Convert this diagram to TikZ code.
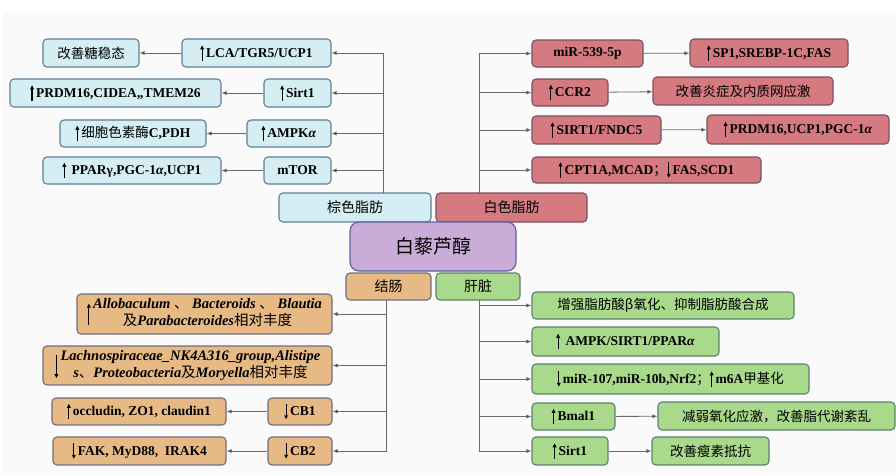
\documentclass[tikz,border=0pt]{standalone}
\usepackage{fontspec}
\setmainfont{Liberation Serif}
\newfontfamily\cjkfont{Noto Sans CJK SC}
\usetikzlibrary{arrows.meta}
\newcommand\cn[1]{{\cjkfont\mdseries\upshape #1}}
\newcommand\up{\tikz[baseline=0pt,x=1pt,y=1pt]\draw[line width=1.2pt,-{Triangle[length=4pt,width=3.6pt]}] (0,-3.5) -- (0,12);\,}
\newcommand\down{\tikz[baseline=0pt,x=1pt,y=1pt]\draw[line width=1.2pt,-{Triangle[length=4pt,width=3.6pt]}] (0,12) -- (0,-3.5);\,}
\newcommand\tallup{\tikz[baseline=0pt,x=1pt,y=1pt]\draw[line width=1.2pt,-{Triangle[length=4pt,width=3.6pt]}] (0,-7) -- (0,14);\,}
\newcommand\talldown{\tikz[baseline=0pt,x=1pt,y=1pt]\draw[line width=1.2pt,-{Triangle[length=4pt,width=3.6pt]}] (0,14) -- (0,-9);\,}
\definecolor{blueF}{HTML}{D4EEF3}
\definecolor{blueD}{HTML}{5F7F95}
\definecolor{redF}{HTML}{D57A80}
\definecolor{redD}{HTML}{7A5060}
\definecolor{purpF}{HTML}{C9ADD8}
\definecolor{purpD}{HTML}{5B5FA0}
\definecolor{tanF}{HTML}{E7B985}
\definecolor{tanD}{HTML}{6D6E7E}
\definecolor{greenF}{HTML}{A9D98A}
\definecolor{greenD}{HTML}{5F8070}
\definecolor{lineC}{HTML}{6A6A6A}
\tikzset{
  base/.style={rounded corners=4pt, line width=1.1pt, inner sep=0pt, align=center,
    font=\fontsize{13.5}{16}\selectfont\bfseries},
  bbox/.style={base, fill=blueF, draw=blueD},
  rbox/.style={base, fill=redF, draw=redD},
  tbox/.style={base, fill=tanF, draw=tanD},
  gbox/.style={base, fill=greenF, draw=greenD},
  lab/.style={base, font=\fontsize{14}{16}\selectfont},
  conn/.style={draw=lineC, line width=0.8pt, -{Latex[length=5pt,width=4pt,fill=black]}},
  trunk/.style={draw=lineC, line width=0.8pt},
}
\begin{document}
\begin{tikzpicture}[x=1pt,y=-1pt]
\useasboundingbox (0,0) rectangle (896,475);
\fill[black!2] (3,12) rectangle (896,475);
% ---------- brown fat (blue) ----------
\node[bbox, minimum width=96, minimum height=28] (b1a) at (91,53) {\cn{改善糖稳态}};
\node[bbox, minimum width=149, minimum height=28] (b1b) at (256.5,53) {\up LCA/TGR5/UCP1};
\node[bbox, minimum width=211, minimum height=28] (b2a) at (115.5,93) {\up PRDM16,CIDEA,,TMEM26};
\node[bbox, minimum width=67, minimum height=28] (b2b) at (297.5,93) {\up Sirt1};
\node[bbox, minimum width=146, minimum height=27] (b3a) at (133,133.5) {\up\cn{细胞色素酶}C,PDH};
\node[bbox, minimum width=84, minimum height=27] (b3b) at (289,133.5) {\up AMPK\textit{α}};
\node[bbox, minimum width=178, minimum height=27] (b4a) at (132,170.5) {\up\ PPARγ,PGC-1\textit{α},UCP1};
\node[bbox, minimum width=67, minimum height=27] (b4b) at (297.5,170.5) {mTOR};
% ---------- white fat (red) ----------
\node[rbox, minimum width=111, minimum height=27] (r1a) at (587.5,53.5) {miR-539-5p};
\node[rbox, minimum width=158, minimum height=28] (r1b) at (769,53) {\up SP1,SREBP-1C,FAS};
\node[rbox, minimum width=76, minimum height=27] (r2a) at (570,92.5) {\up CCR2};
\node[rbox, minimum width=180, minimum height=28] (r2b) at (743,91) {\cn{改善炎症及内质网应激}};
\node[rbox, minimum width=129, minimum height=28] (r3a) at (596.5,130) {\up SIRT1/FNDC5};
\node[rbox, minimum width=182, minimum height=29] (r3b) at (798,129.5) {\up PRDM16,UCP1,PGC-1\textit{α}};
\node[rbox, minimum width=229, minimum height=26] (r4) at (646.5,170) {\up CPT1A,MCAD\cn{；}\down FAS,SCD1};
% ---------- central labels ----------
\node[lab, fill=blueF, draw=blueD, minimum width=152, minimum height=29] (bf) at (355,207.5) {\cn{棕色脂肪}};
\node[lab, fill=redF, draw=redD, minimum width=151, minimum height=29] (wf) at (511.5,207.5) {\cn{白色脂肪}};
\node[base, fill=purpF, draw=purpD, rounded corners=9pt, minimum width=166, minimum height=49,
  font=\fontsize{19}{22}\selectfont] (ctr) at (433,246.5) {\cn{白藜芦醇}};
\node[lab, fill=tanF, draw=tanD, minimum width=85, minimum height=27] (co) at (388.5,286.5) {\cn{结肠}};
\node[lab, fill=greenF, draw=greenD, minimum width=84, minimum height=27] (li) at (478,286.5) {\cn{肝脏}};
% ---------- colon (tan) ----------
\node[tbox, minimum width=255, minimum height=40, font=\fontsize{14.5}{16}\selectfont\bfseries] (t1) at (204.5,314)
  {\tallup\begin{tabular}{@{}c@{}}\textit{Allobaculum} \cn{、} \textit{Bacteroids} \cn{、} \textit{Blautia}\\
   \cn{及}\textit{Parabacteroides}\cn{相对丰度}\end{tabular}};
\node[tbox, minimum width=289, minimum height=39, font=\fontsize{14.5}{16}\selectfont\bfseries] (t2) at (187.5,365.5)
  {\talldown\begin{tabular}{@{}c@{}}\textit{Lachnospiraceae\_NK4A316\_group,Alistipe}\\
   \textit{s}\cn{、}\textit{Proteobacteria}\cn{及}\textit{Moryella}\cn{相对丰度}\end{tabular}};
\node[tbox, minimum width=174, minimum height=27] (t3a) at (139,411.5) {\up occludin, ZO1, claudin1};
\node[tbox, minimum width=64, minimum height=27] (t3b) at (300,411.5) {\down CB1};
\node[tbox, minimum width=173, minimum height=28] (t4a) at (139.5,451) {\down FAK, MyD88,\ \ IRAK4};
\node[tbox, minimum width=64, minimum height=28] (t4b) at (300,451) {\down CB2};
% ---------- liver (green) ----------
\node[gbox, minimum width=262, minimum height=27] (g1) at (663,305.5) {\cn{增强脂肪酸β氧化、抑制脂肪酸合成}};
\node[gbox, minimum width=187, minimum height=29] (g2) at (625.5,341.5) {\up\ AMPK/SIRT1/PPAR\textit{α}};
\node[gbox, minimum width=277, minimum height=30] (g3) at (670.5,379) {\down miR-107,miR-10b,Nrf2\cn{；}\up m6A\cn{甲基化}};
\node[gbox, minimum width=83, minimum height=27] (g4a) at (573.5,416.5) {\up Bmal1};
\node[gbox, minimum width=237, minimum height=28] (g4b) at (776.5,416) {\cn{减弱氧化应激，改善脂代谢紊乱}};
\node[gbox, minimum width=76, minimum height=28] (g5a) at (570,451) {\up Sirt1};
\node[gbox, minimum width=117, minimum height=28] (g5b) at (710.5,451) {\cn{改善瘦素抵抗}};
% ---------- trunks ----------
\coordinate (tl0) at (383,193);
\coordinate (tr0) at (479,193);
\coordinate (bl0) at (386,300);
\coordinate (br0) at (479,300);
\draw[trunk] (tl0) -- (tl0 |- b1b.center);
\draw[trunk] (tr0) -- (tr0 |- r1a.center);
\draw[trunk] (bl0) -- (bl0 |- t4b.center);
\draw[trunk] (br0) -- (br0 |- g5a.center);
% ---------- connectors ----------
\foreach \n in {b1b,b2b,b3b,b4b} \draw[conn] (tl0) |- (\n);
\foreach \n in {r1a,r2a,r3a,r4} \draw[conn] (tr0) |- (\n);
\foreach \n in {t1,t2,t3b,t4b} \draw[conn] (bl0) |- (\n);
\foreach \n in {g1,g2,g3,g4a,g5a} \draw[conn] (br0) |- (\n);
\draw[conn] (b1b) -- (b1a);
\draw[conn] (b2b) -- (b2a);
\draw[conn] (b3b) -- (b3a);
\draw[conn] (b4b) -- (b4a);
\draw[conn] (r1a) -- (r1b);
\draw[conn] (r2a) -- (r2b);
\draw[conn] (r3a) -- (r3b);
\draw[conn] (t3b) -- (t3a);
\draw[conn] (t4b) -- (t4a);
\draw[conn] (g4a) -- (g4b);
\draw[conn] (g5a) -- (g5b);
\end{tikzpicture}
\end{document}
